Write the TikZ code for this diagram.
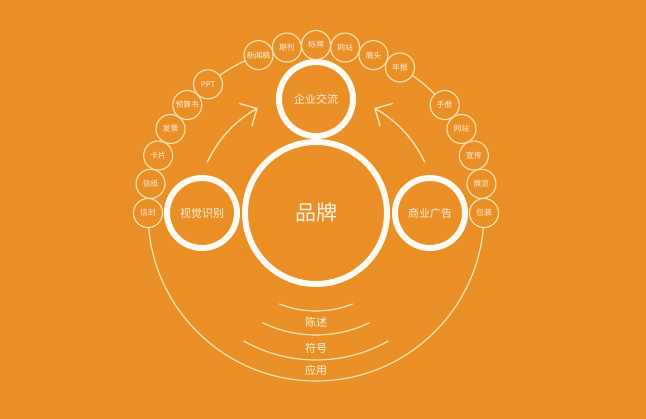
\documentclass[tikz,border=0pt]{standalone}
\usepackage{fontspec}
\newfontfamily\cjk{Noto Sans CJK SC}
\usetikzlibrary{arrows.meta,backgrounds}
\definecolor{bgorange}{HTML}{EA8E26}
\definecolor{ringwhite}{HTML}{FFFBF3}
\definecolor{linecream}{HTML}{FCE5B8}
\definecolor{textcream}{HTML}{FFF4E2}
\tikzset{
  bigring/.style={circle, draw=ringwhite, line width=6pt, inner sep=0pt, text=textcream},
  smallring/.style={circle, draw=linecream, line width=1.1pt, fill=bgorange, minimum size=29pt, inner sep=0pt, text=textcream, font=\cjk\fontsize{7.8}{8}\selectfont},
  thinline/.style={draw=linecream, line width=1.2pt},
  layerlabel/.style={text=textcream, font=\cjk\fontsize{11}{13}\selectfont},
}
\begin{document}
\begin{tikzpicture}[x=1pt,y=1pt]
    \useasboundingbox (0,0) rectangle (646,419);
    \node(brand) at (316,206) [bigring, minimum size=142pt, font=\cjk\fontsize{21}{24}\selectfont] {品牌};
    \node(exchange) at (316,320) [bigring, minimum size=74pt, font=\cjk\fontsize{11}{13}\selectfont] {企业交流};
    \node(visual) at (202,206) [bigring, minimum size=70pt, font=\cjk\fontsize{11}{13}\selectfont] {视觉识别};
    \node(advert) at (430,206) [bigring, minimum size=70pt, font=\cjk\fontsize{11}{13}\selectfont] {商业广告};
    % small rings on the outer circle
    \foreach \ang/\txt [count=\i] in {180/信封,170/信纸,160/卡片,150/发票,140/预算书,130/PPT,
        110/新闻稿,100/期刊,90/标牌,80/网站,70/眉头,60/年报,
        40/手册,30/网站,20/宣传,10/展览,0/包装}
      \node(s\i) at ([shift={(\ang:168)}]brand.center) [smallring] {\txt};
    \begin{scope}[on background layer]
      \fill[bgorange] (0,0) rectangle (646,419);
      \draw[thinline] (s6.center) arc[start angle=130, end angle=110, radius=168];
      \draw[thinline] (s12.center) arc[start angle=60, end angle=40, radius=168];
      \draw[thinline] (s1.center) arc[start angle=180, end angle=360, radius=168];
    \end{scope}
    % arrows to 企业交流
    \path (brand.center) ++(155:120) coordinate (la);
    \path (brand.center) ++(25:120) coordinate (ra);
    \draw[thinline, line width=1.4pt, -{Straight Barb[length=13pt, width=26pt]}] (la) arc[start angle=155, end angle=119, radius=120];
    \draw[thinline, line width=1.4pt, -{Straight Barb[length=13pt, width=26pt]}] (ra) arc[start angle=25, end angle=61, radius=120];
    % layers below
    \draw[thinline] (brand.center) ++(-112:98) arc[start angle=-112, end angle=-68, radius=98];
    \draw[thinline] (brand.center) ++(-116:122) arc[start angle=-116, end angle=-64, radius=122];
    \draw[thinline] (brand.center) ++(-119.5:147) arc[start angle=-119.5, end angle=-60.5, radius=147];
    \node(tell) at (316,97) [layerlabel] {陈述};
    \node(sign) at (316,71) [layerlabel] {符号};
    \node(use) at (316,49) [layerlabel] {应用};
\end{tikzpicture}
\end{document}
